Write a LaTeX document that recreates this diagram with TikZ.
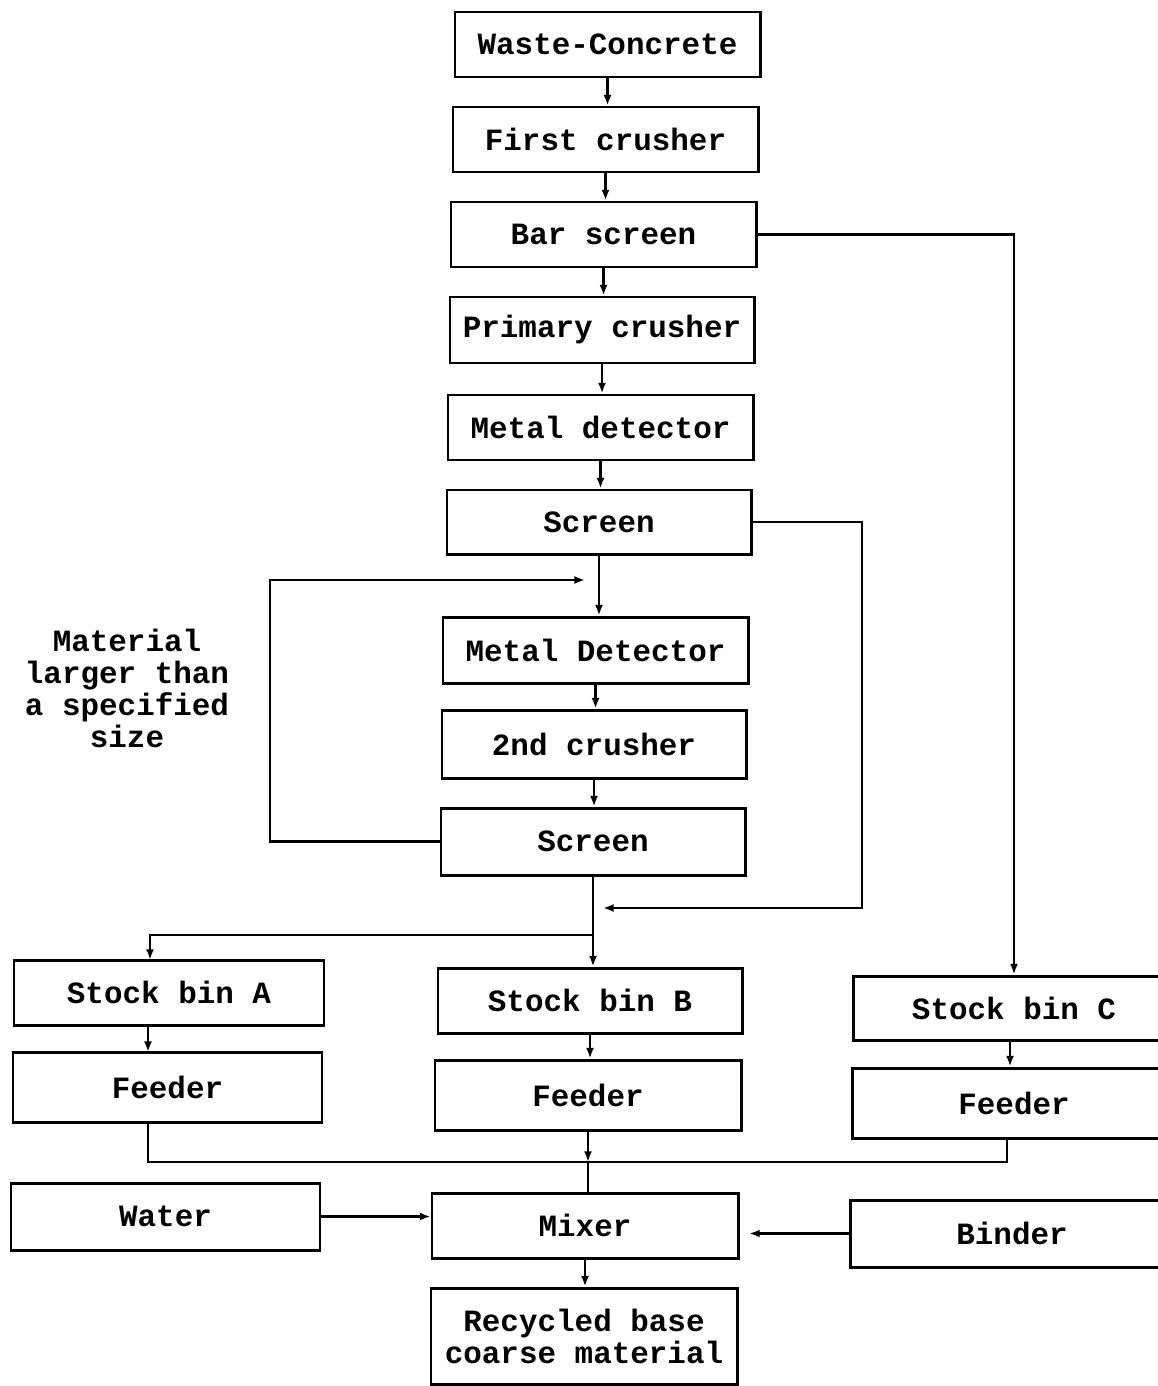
\documentclass[tikz,border=0pt]{standalone}
\usepackage{fontspec}
\setmonofont{Liberation Mono}
\usetikzlibrary{arrows.meta}
\begin{document}
\begin{tikzpicture}[x=0.02cm,y=-0.02cm,
  every node/.style={font=\ttfamily\bfseries\fontsize{17.6}{18.2}\selectfont},
  bx/.style 2 args={draw,line width=1.7pt,inner sep=0pt,align=center,
    minimum width=#1*0.02cm,minimum height=#2*0.02cm},
  conn/.style={line width=1.5pt},
  arr/.style={conn,-{Latex[length=6pt,width=4.5pt]}}]
\useasboundingbox (0,0) rectangle (1157,1386);
% main column
\node[bx={305}{65}] (waste) at (607.5,44.5) {Waste-Concrete};
\node[bx={305}{65}] (first) at (605.5,139.5) {First crusher};
\node[bx={305}{65}] (bar) at (603.5,234.5) {Bar screen};
\node[bx={304}{66}] (prim) at (602,330) {Primary crusher};
\node[bx={305}{65}] (mdA) at (600.5,427.5) {Metal detector};
\node[bx={304}{64}] (scrA) at (599,522) {Screen};
\node[bx={305}{66}] (mdB) at (595.5,650) {Metal Detector};
\node[bx={304}{68}] (crB) at (594,744) {2nd crusher};
\node[bx={304}{67}] (scrB) at (593,841.5) {Screen};
% bins and feeders
\node[bx={310}{65}] (binA) at (169,992.5) {Stock bin A};
\node[bx={304}{65}] (binB) at (590,1000.5) {Stock bin B};
\node[bx={322}{64}] (binC) at (1014,1008) {Stock bin C};
\node[bx={309}{70}] (feedA) at (167.5,1087) {Feeder};
\node[bx={306}{70}] (feedB) at (588,1095) {Feeder};
\node[bx={324}{70}] (feedC) at (1014,1103) {Feeder};
% bottom
\node[bx={309}{67}] (water) at (165.5,1216.5) {Water};
\node[bx={306}{65}] (mixer) at (585,1225.5) {Mixer};
\node[bx={324}{67}] (binder) at (1012,1233.5) {Binder};
\node[bx={306}{96}] (rec) at (584,1336) {Recycled base\\coarse material};
% label
\node[align=center] (lbl) at (127,688) {Material\\larger than\\a specified\\size};
% coordinates
\coordinate (loopL) at (270,580);
\coordinate (loopT) at (585,580);
\coordinate (r1) at (862,908);
\coordinate (j1) at (603,908);
\coordinate (j2) at (593,935);
\coordinate (aA) at (150,960);
\coordinate (aAs) at (148,1025);
\coordinate (aAf) at (148,1052);
\coordinate (fAs) at (148,1122);
\coordinate (fCs) at (1007,1138);
\coordinate (j4) at (588,1162);
% main chain
\draw[arr] (waste.south) -- (waste.south |- first.north);
\draw[arr] (first.south) -- (first.south |- bar.north);
\draw[arr] (bar.south) -- (bar.south |- prim.north);
\draw[arr] (prim.south) -- (prim.south |- mdA.north);
\draw[arr] (mdA.south) -- (mdA.south |- scrA.north);
\draw[arr] (scrA.south) -- (scrA.south |- mdB.north);
\draw[arr] (mdB.south) -- (mdB.south |- crB.north);
\draw[arr] (crB.south) -- (crB.south |- scrB.north);
\draw[arr] (scrB.south) -- (scrB.south |- binB.north);
% bar screen to bin C
\draw[arr] (bar.east) -| (binC.north);
% screen A bypass
\draw[arr] (scrA.east) -| (r1) -- (j1);
% loop back
\draw[arr] (scrB.west) -| (loopL) -- (loopT);
% branch to bin A
\draw[arr] (j2) -| (aA);
% bins to feeders
\draw[arr] (aAs) -- (aAf);
\draw[arr] (binB.south) -- (binB.south |- feedB.north);
\draw[arr] (binC.south -| 1010,0) -- (feedC.north -| 1010,0);
% feeders to mixer
\draw[conn] (fAs) |- (j4);
\draw[conn] (fCs) |- (j4);
\draw[arr] (feedB.south) -- (j4);
\draw[conn] (j4) -- (j4 |- mixer.north);
% water, binder
\draw[arr] (water.east) -- (water.east -| mixer.west);
\draw[arr,shorten >=5.5pt] (binder.west) -- (binder.west -| mixer.east);
\draw[arr] (mixer.south) -- (mixer.south |- rec.north);
\end{tikzpicture}
\end{document}
